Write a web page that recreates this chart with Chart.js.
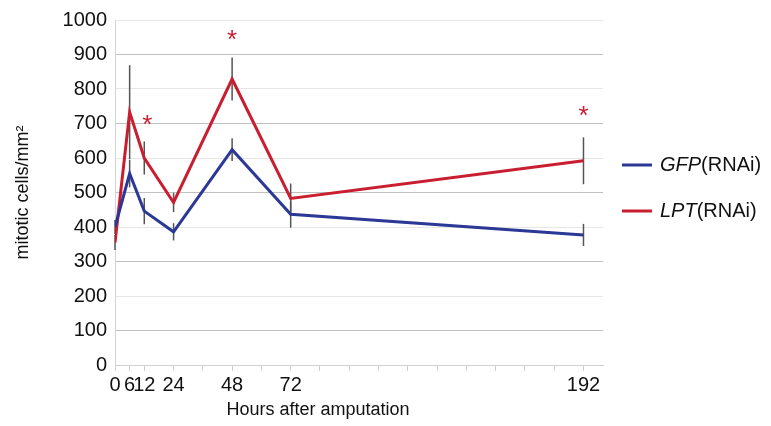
<!DOCTYPE html>
<html>
<head>
<meta charset="utf-8">
<script src="https://cdn.jsdelivr.net/npm/chart.js@4"></script>
<style>
    html, body { margin: 0; padding: 0; background: #fff; }
    #wrap { width: 771px; height: 426px; }
</style>
</head>
<body>
<div id="wrap"><canvas id="chart" width="771" height="426"></canvas></div>
<script>
    // Data
    var hours = [0, 6, 12, 24, 48, 72, 192];
    var gfp = [400, 555, 446, 386, 624, 437, 377];
    var gfpErr = [20, 40, 38, 25, 33, 39, 32];
    var lpt = [355, 733, 600, 471, 829, 483, 592];
    var lptErr = [22, 136, 48, 28, 62, 43, 68];
    var starHours = [12, 48, 192];
    var starValues = [705, 950, 730];
    var xLabels = [0, 6, 12, 24, 48, 72, 192];
    var xTickMarks = [0, 6, 12, 24, 36, 48, 60, 72, 84, 96, 108, 120, 132, 144, 156, 168, 180, 192];

    var FONT = '"Liberation Sans", Arial, sans-serif';
    var BLUE = 'rgb(43, 56, 150)';
    var RED = 'rgb(200, 30, 48)';
    var TEXT = '#111';

    function toPoints(ys) {
        return hours.map(function(h, i) { return {x: h, y: ys[i]}; });
    }

    // Error bars, drawn under the lines
    var errorBars = {
        id: 'errorBars',
        beforeDatasetsDraw: function(chart) {
            var ctx = chart.ctx;
            var xs = chart.scales.x, ys = chart.scales.y;
            ctx.save();
            ctx.strokeStyle = '#555';
            ctx.lineWidth = 1.5;
            [[gfp, gfpErr], [lpt, lptErr]].forEach(function(s) {
                hours.forEach(function(h, i) {
                    var px = xs.getPixelForValue(h);
                    ctx.beginPath();
                    ctx.moveTo(px, ys.getPixelForValue(s[0][i] - s[1][i]));
                    ctx.lineTo(px, ys.getPixelForValue(s[0][i] + s[1][i]));
                    ctx.stroke();
                });
            });
            ctx.restore();
        }
    };

    // Asterisks, x title and the legend (italic gene names)
    var annotations = {
        id: 'annotations',
        afterDraw: function(chart) {
            var ctx = chart.ctx;
            var xs = chart.scales.x, ys = chart.scales.y;
            var area = chart.chartArea;
            ctx.save();
            ctx.fillStyle = RED;
            ctx.font = '26px ' + FONT;
            ctx.textAlign = 'center';
            ctx.textBaseline = 'middle';
            starHours.forEach(function(h, i) {
                ctx.fillText('*', xs.getPixelForValue(h) + (h === 12 ? 3 : 0), ys.getPixelForValue(starValues[i]) + 4);
            });

            ctx.fillStyle = TEXT;
            ctx.font = '18px ' + FONT;
            ctx.fillText('Hours after amputation', area.left + 203, 410);

            var items = [['GFP', BLUE, 165], ['LPT', RED, 211]];
            ctx.textAlign = 'left';
            items.forEach(function(it) {
                ctx.strokeStyle = it[1];
                ctx.lineWidth = 3;
                ctx.beginPath();
                ctx.moveTo(area.right + 19, it[2]);
                ctx.lineTo(area.right + 49, it[2]);
                ctx.stroke();
                ctx.fillStyle = TEXT;
                ctx.font = 'italic 20px ' + FONT;
                var x = area.right + 57;
                ctx.fillText(it[0], x, it[2]);
                x += ctx.measureText(it[0]).width;
                ctx.font = '20px ' + FONT;
                ctx.fillText('(RNAi)', x, it[2]);
            });
            ctx.restore();
        }
    };

    new Chart(document.getElementById('chart'), {
        type: 'line',
        data: {
            datasets: [
                {
                    label: 'GFP(RNAi)',
                    data: toPoints(gfp),
                    borderColor: BLUE,
                    borderWidth: 3,
                    pointRadius: 0,
                    tension: 0,
                    fill: false
                },
                {
                    label: 'LPT(RNAi)',
                    data: toPoints(lpt),
                    borderColor: RED,
                    borderWidth: 3,
                    pointRadius: 0,
                    tension: 0,
                    fill: false
                }
            ]
        },
        options: {
            responsive: false,
            animation: false,
            layout: { padding: { top: 15, right: 168, bottom: 0, left: 0 } },
            plugins: {
                legend: { display: false },
                tooltip: { enabled: false }
            },
            scales: {
                x: {
                    type: 'linear',
                    min: 0,
                    max: 200,
                    afterBuildTicks: function(scale) {
                        scale.ticks = xTickMarks.map(function(v) { return {value: v}; });
                    },
                    afterFit: function(scale) { scale.height = 61; },
                    ticks: {
                        autoSkip: false,
                        maxRotation: 0,
                        padding: 2,
                        color: TEXT,
                        font: { family: FONT, size: 20 },
                        callback: function(v) { return xLabels.indexOf(v) >= 0 ? String(v) : ''; }
                    },
                    grid: { drawOnChartArea: false, color: '#cfcfcf', tickLength: 6 },
                    border: { color: '#cfcfcf' }
                },
                y: {
                    min: 0,
                    max: 1000,
                    afterFit: function(scale) { scale.width = 115; },
                    ticks: {
                        stepSize: 100,
                        padding: 8,
                        color: TEXT,
                        font: { family: FONT, size: 20 },
                        callback: function(v) { return String(v); }
                    },
                    grid: {
                        drawTicks: false,
                        color: function(c) {
                            return (c.tick && (c.tick.value / 100) % 2 === 1) ? '#c0c0c0' : '#e6e6e6';
                        }
                    },
                    border: { color: '#d4d4d4' },
                    title: {
                        display: true,
                        text: 'mitotic cells/mm²',
                        color: TEXT,
                        font: { family: FONT, size: 18 },
                        padding: { top: 12, bottom: 0 }
                    }
                }
            }
        },
        plugins: [errorBars, annotations]
    });
</script>
</body>
</html>
